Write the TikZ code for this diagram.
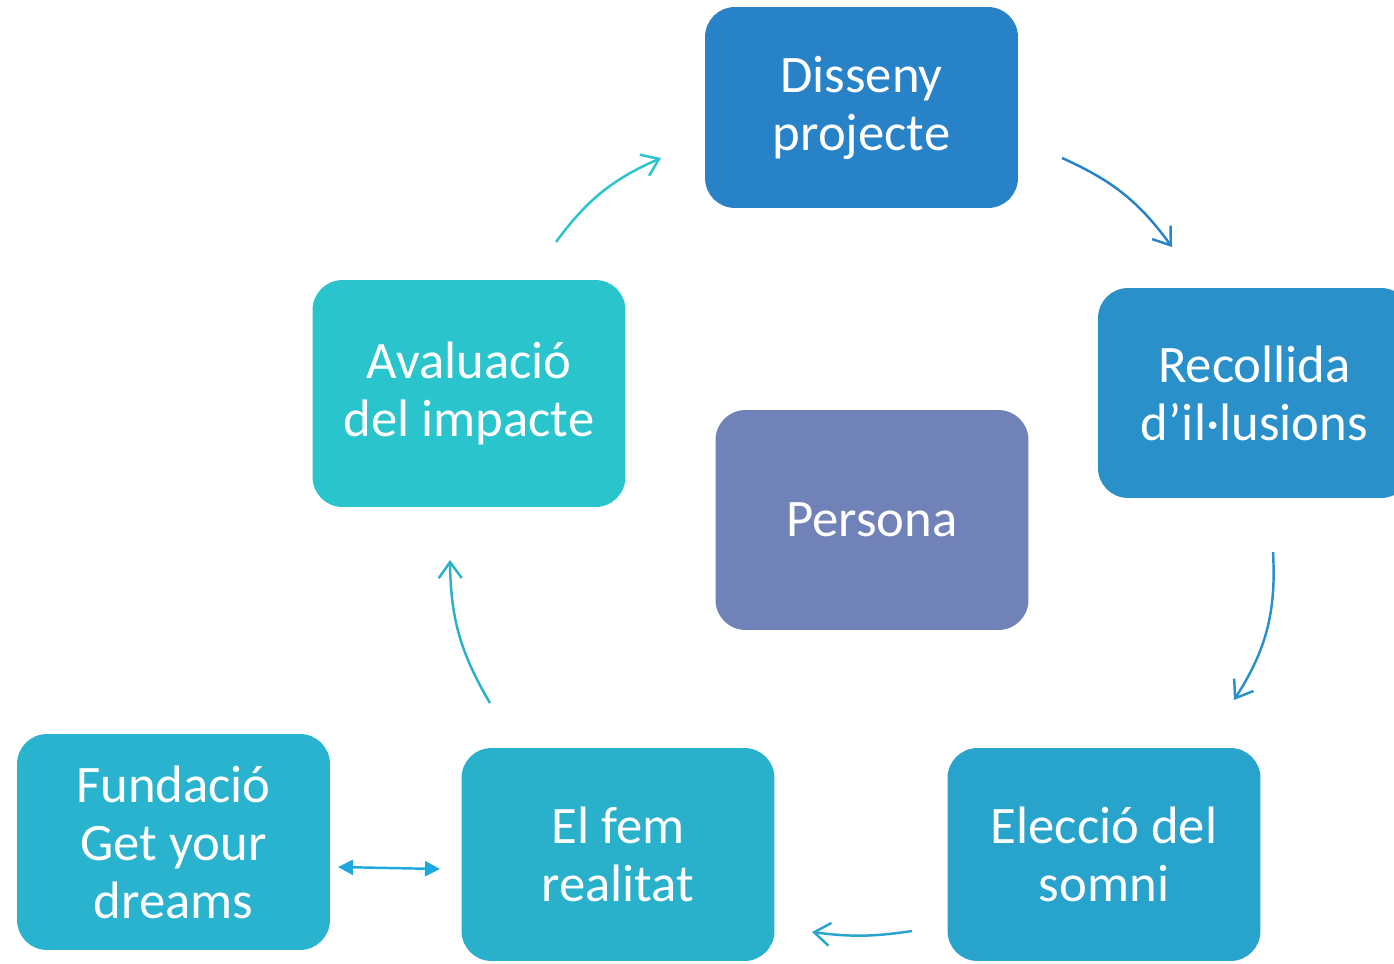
\documentclass[tikz,border=0pt]{standalone}
\usepackage{fontspec}
\setmainfont{Carlito}
\usetikzlibrary{positioning,arrows.meta}
\definecolor{dissenyblue}{RGB}{40,130,200}
\definecolor{recollblue}{RGB}{41,144,202}
\definecolor{eleccblue}{RGB}{40,163,204}
\definecolor{femblue}{RGB}{41,177,204}
\definecolor{fundblue}{RGB}{41,179,206}
\definecolor{avalteal}{RGB}{42,196,204}
\definecolor{personaviolet}{RGB}{113,130,184}
\definecolor{linkblue}{RGB}{30,168,224}

\begin{document}
\begin{tikzpicture}[x=0.02cm, y=-0.02cm, semithick,
               box/.style ={rectangle, rounded corners=0.6cm, draw=none, text=white,
               minimum width =6.26cm, minimum height =4.1cm, align=center,
               font=\fontsize{30}{33}\selectfont},
               cyc/.style ={line width=1.4pt, -{Straight Barb[length=0.32cm, width=0.46cm]}, bend left=15}]

           \useasboundingbox (0,0) rectangle (1394,964);
           \clip (0,0) rectangle (1394,964);

           %\node [estilo] (nombre) at (posicion en px) {};

           \node[box, fill=dissenyblue] (n1) at (861.5, 107.5) [minimum height=4.02cm] {Disseny\\projecte};
           \node[box, fill=recollblue] (n2) at (1254.5, 393) [minimum height=4.2cm] {Recollida\\d’il·lusions};
           \node[box, fill=eleccblue] (n3) at (1104, 854.5) [minimum height=4.26cm] {Elecció del\\somni};
           \node[box, fill=femblue] (n4) at (618, 854.5) [minimum height=4.26cm] {El fem\\realitat};
           \node[box, fill=avalteal] (n5) at (469, 393.5) [minimum height=4.54cm] {Avaluació\\del impacte};
           \node[box, fill=fundblue] (n6) at (173.5, 842) [minimum height=4.32cm] {Fundació\\Get your\\dreams};
           \node[box, fill=personaviolet] (n7) at (872, 520) [minimum height=4.4cm] {Persona};

           % extrems de les fletxes
           \coordinate (a1) at (556, 242);  \coordinate (b1) at (661, 158);
           \coordinate (a2) at (1062, 158); \coordinate (b2) at (1172, 247);
           \coordinate (a3) at (1273, 552); \coordinate (b3) at (1234, 700);
           \coordinate (a4) at (912, 931);  \coordinate (b4) at (812, 932);
           \coordinate (a5) at (490, 703);  \coordinate (b5) at (450, 560);
           \coordinate (a6) at (338, 867);  \coordinate (b6) at (440, 869);

           \path (a1) edge[cyc, avalteal] (b1);
           \path (a2) edge[cyc, dissenyblue] (b2);
           \path (a3) edge[cyc, recollblue, bend left=18] (b3);
           \path (a4) edge[cyc, eleccblue, bend left=8] (b4);
           \path (a5) edge[cyc, femblue] (b5);

           \path (a6) edge[linkblue, line width=1.4pt, {Triangle[length=0.3cm, width=0.3cm]}-{Triangle[length=0.3cm, width=0.3cm]}] (b6);

       \end{tikzpicture}
\end{document}
